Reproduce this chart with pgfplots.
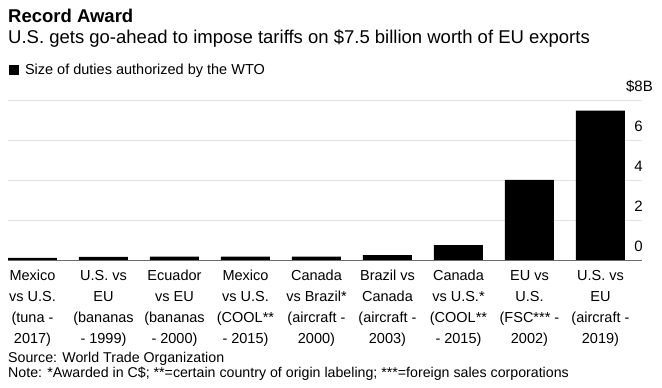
\documentclass[border=0pt]{standalone}
\usepackage{pgfplots}
\pgfplotsset{compat=1.18}
\usepackage{fontspec}
\setmainfont{Liberation Sans}
\definecolor{gridgray}{HTML}{E2E2E2}
\definecolor{basegray}{HTML}{6A6A6A}
\begin{document}
\begin{tikzpicture}[x=1pt,y=1pt]
\useasboundingbox (0,0) rectangle (662,388);
\begin{axis}[
  at={(8pt,127.3pt)}, anchor=south west,
  width=634pt, height=160pt, scale only axis,
  xmin=-0.345, xmax=8.585, ymin=0, ymax=8,
  axis line style={draw=none},
  tick style={draw=none},
  major tick length=0pt,
  ytick={0,2,4,6,8},
  yticklabels={0,2,4,6,{\llap{\$}8\rlap{B}}},
  yticklabel pos=right,
  yticklabel style={anchor=base east, inner sep=0pt, xshift=1pt, yshift=9.5pt, font=\fontsize{15}{18}\selectfont},
  ymajorgrids,
  grid style={draw=gridgray, line width=1.3pt},
  xtick={0,1,2,3,4,5,6,7,8},
  xticklabels={
    {Mexico\\vs U.S.\\(tuna -\\2017)},
    {U.S. vs\\EU\\(bananas\\- 1999)},
    {Ecuador\\vs EU\\(bananas\\- 2000)},
    {Mexico\\vs U.S.\\(COOL**\\- 2015)},
    {Canada\\vs Brazil*\\(aircraft -\\2000)},
    {Brazil vs\\Canada\\(aircraft -\\2003)},
    {Canada\\vs U.S.*\\(COOL**\\- 2015)},
    {EU vs\\U.S.\\(FSC*** -\\2002)},
    {U.S. vs\\EU\\(aircraft -\\2019)}},
  xticklabel style={align=center, anchor=north, inner sep=0pt, yshift=-9.5pt, font=\fontsize{14.5}{21}\selectfont},
  legend style={at={(axis description cs:0,1)}, anchor=south west, xshift=1pt, yshift=23pt,
    draw=none, fill=none, inner sep=0pt, outer sep=0pt,
    font=\fontsize{14.5}{17}\selectfont, legend cell align=left},
  legend image code/.code={\fill[black] (0pt,-5pt) rectangle (10pt,5pt); \path (14pt,0pt);},
]
\addplot[ybar, bar width=49pt, fill=black, draw=none]
  coordinates {(0,0.14) (1,0.19) (2,0.2) (3,0.2) (4,0.2) (5,0.28) (6,0.78) (7,4.04) (8,7.5)};
\addlegendentry{Size of duties authorized by the WTO}
\draw[line width=0.9pt, basegray] (rel axis cs:0,0) -- (rel axis cs:1,0);
\end{axis}
\node[anchor=base west, inner sep=0pt, font=\bfseries\fontsize{18.5}{22}\selectfont] at (8,365.3) {Record Award};
\node[anchor=base west, inner sep=0pt, font=\fontsize{18.5}{22}\selectfont] at (8,344.7) {U.S. gets go-ahead to impose tariffs on \$7.5 billion worth of EU exports};
\node[anchor=base west, inner sep=0pt, font=\fontsize{14.2}{16}\selectfont] at (8,25) {Source: World Trade Organization};
\node[anchor=base west, inner sep=0pt, font=\fontsize{14.2}{16}\selectfont] at (8,10.5) {Note: *Awarded in C\$; **=certain country of origin labeling; ***=foreign sales corporations};
\end{tikzpicture}
\end{document}
